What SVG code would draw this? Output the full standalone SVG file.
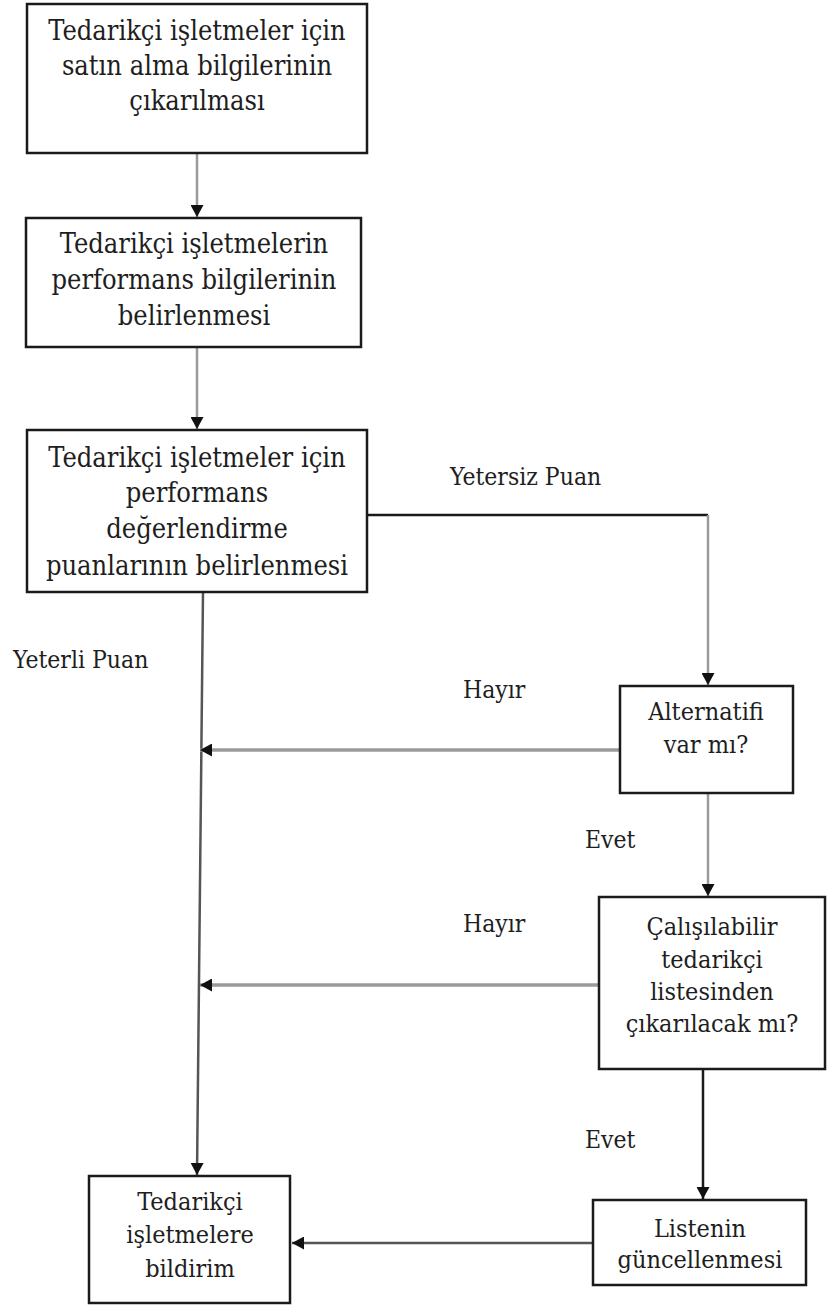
<svg xmlns="http://www.w3.org/2000/svg" width="828" height="1309" viewBox="0 0 828 1309">
  <style>
    .box { fill: #ffffff; stroke: #1a1a1a; stroke-width: 2.5; }
    .t { fill: #1e1e1e; text-anchor: middle; }
    .big { font-size: 27px; }
    .small { font-size: 25px; }
    .lbl { fill: #1e1e1e; font-size: 24.5px; }
    .gray { stroke: #9a9a9a; stroke-width: 2.5; fill: none; }
    .grayw { stroke: #9a9a9a; stroke-width: 3.5; fill: none; }
    .dark { stroke: #1a1a1a; stroke-width: 2.5; fill: none; }
    .mid { stroke: #555555; stroke-width: 2.5; fill: none; }
  </style>
  <defs>
    <marker id="ah" markerUnits="userSpaceOnUse" markerWidth="13" markerHeight="13" refX="12" refY="6.5" orient="auto">
      <path d="M0,0 L12,6.5 L0,13 z" fill="#111111"/>
    </marker>
  </defs>

  <!-- connectors -->
  <g id="connectors">
    <line class="gray" x1="197" y1="153" x2="197" y2="217" marker-end="url(#ah)"/>
    <line class="gray" x1="197" y1="347" x2="197" y2="429" marker-end="url(#ah)"/>
    <polyline class="dark" points="367,515 708,515"/>
    <line class="gray" x1="708" y1="515" x2="708" y2="685" marker-end="url(#ah)"/>
    <line class="mid" x1="203" y1="592" x2="197" y2="1175" marker-end="url(#ah)"/>
    <line class="grayw" x1="620" y1="750" x2="200" y2="750" marker-end="url(#ah)"/>
    <line class="gray" x1="708" y1="793" x2="708" y2="896" marker-end="url(#ah)"/>
    <line class="grayw" x1="599" y1="985" x2="200" y2="985" marker-end="url(#ah)"/>
    <line class="dark" x1="703" y1="1070" x2="703" y2="1199" marker-end="url(#ah)"/>
    <line class="mid" x1="593" y1="1243" x2="292" y2="1243" marker-end="url(#ah)"/>
  </g>

  <g font-family="'DejaVu Serif Condensed', 'DejaVu Serif', 'Liberation Serif', serif" font-stretch="condensed">
  <!-- edge labels -->
  <g id="labels">
    <text class="lbl" x="450" y="485">Yetersiz Puan</text>
    <text class="lbl" x="13" y="668">Yeterli Puan</text>
    <text class="lbl" x="463" y="698">Hayır</text>
    <text class="lbl" x="585" y="848">Evet</text>
    <text class="lbl" x="463" y="932">Hayır</text>
    <text class="lbl" x="585" y="1148">Evet</text>
  </g>

  <g id="n1">
    <rect class="box" x="27" y="4" width="340" height="149"/>
    <text class="t big" x="197" y="40">Tedarikçi işletmeler için</text>
    <text class="t big" x="197" y="75">satın alma bilgilerinin</text>
    <text class="t big" x="197" y="110">çıkarılması</text>
  </g>

  <g id="n2">
    <rect class="box" x="26" y="218" width="335" height="129"/>
    <text class="t big" x="194" y="253">Tedarikçi işletmelerin</text>
    <text class="t big" x="194" y="289">performans bilgilerinin</text>
    <text class="t big" x="194" y="325">belirlenmesi</text>
  </g>

  <g id="n3">
    <rect class="box" x="27" y="430" width="340" height="162"/>
    <text class="t big" x="197" y="467">Tedarikçi işletmeler için</text>
    <text class="t big" x="197" y="502">performans</text>
    <text class="t big" x="197" y="538">değerlendirme</text>
    <text class="t big" x="197" y="575">puanlarının belirlenmesi</text>
  </g>

  <g id="n4">
    <rect class="box" x="620" y="686" width="173" height="107"/>
    <text class="t small" x="706" y="720">Alternatifi</text>
    <text class="t small" x="706" y="753">var mı?</text>
  </g>

  <g id="n5">
    <rect class="box" x="599" y="897" width="226" height="172"/>
    <text class="t small" x="712" y="935">Çalışılabilir</text>
    <text class="t small" x="712" y="968">tedarikçi</text>
    <text class="t small" x="712" y="1000">listesinden</text>
    <text class="t small" x="712" y="1032">çıkarılacak mı?</text>
  </g>

  <g id="n6">
    <rect class="box" x="593" y="1200" width="213" height="85"/>
    <text class="t small" x="700" y="1237">Listenin</text>
    <text class="t small" x="700" y="1268">güncellenmesi</text>
  </g>

  <g id="n7">
    <rect class="box" x="89" y="1176" width="201" height="127"/>
    <text class="t small" x="190" y="1210">Tedarikçi</text>
    <text class="t small" x="190" y="1243">işletmelere</text>
    <text class="t small" x="190" y="1277">bildirim</text>
  </g>
  </g>
</svg>
